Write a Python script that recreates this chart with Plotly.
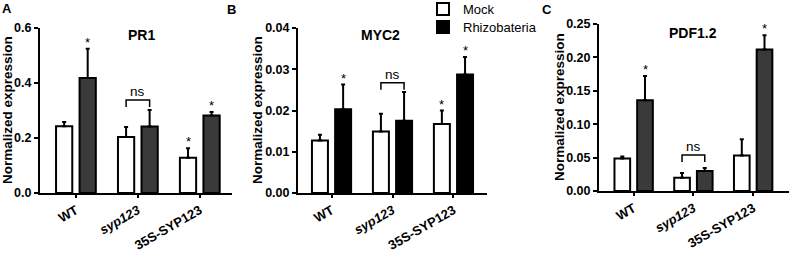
import plotly.graph_objects as go

# ---------------- data ----------------
genotypes = ["WT", "syp123", "35S-SYP123"]
tick_labels = ["WT", "<i>syp123</i>", "35S-SYP123"]

pr1_mock = [0.243, 0.204, 0.128]
pr1_mock_err = [0.015, 0.036, 0.035]
pr1_rhizo = [0.418, 0.242, 0.282]
pr1_rhizo_err = [0.107, 0.060, 0.013]
pr1_mock_star = [False, False, True]
pr1_rhizo_star = [True, False, True]

myc2_mock = [0.0127, 0.0149, 0.0167]
myc2_mock_err = [0.0014, 0.0043, 0.0033]
myc2_rhizo = [0.0203, 0.0175, 0.0287]
myc2_rhizo_err = [0.0060, 0.0070, 0.0043]
myc2_mock_star = [False, False, True]
myc2_rhizo_star = [True, False, True]

pdf_mock = [0.0485, 0.020, 0.053]
pdf_mock_err = [0.003, 0.007, 0.0245]
pdf_rhizo = [0.136, 0.030, 0.212]
pdf_rhizo_err = [0.036, 0.0045, 0.021]
pdf_mock_star = [False, False, False]
pdf_rhizo_star = [True, False, True]

ns_level = [0.338, 0.0267, 0.054]   # bracket height per panel
panel_titles = ["PR1", "MYC2", "PDF1.2"]
panel_letters = ["A", "B", "C"]
y_max = [0.6, 0.04, 0.25]
y_dtick = [0.2, 0.01, 0.05]
y_fmt = [".1f", ".2f", ".2f"]

# ---------------- layout params ----------------
FONT = "Liberation Sans, Arial, sans-serif"
W, H = 800, 253
x_domains = [[40 / W, 232 / W], [298 / W, 487 / W], [599 / W, 789 / W]]
y_domains = [[1 - 193 / H, 1 - 28 / H], [1 - 193 / H, 1 - 28 / H], [1 - 191 / H, 1 - 24 / H]]
x_ranges = [[-0.58, 2.52], [-0.55, 2.55], [-0.58, 2.6]]
rhizo_colors = ["#3a3a3a", "#000000", "#3a3a3a"]
bar_off = 0.19

panels = [
    (pr1_mock, pr1_mock_err, pr1_rhizo, pr1_rhizo_err, pr1_mock_star, pr1_rhizo_star),
    (myc2_mock, myc2_mock_err, myc2_rhizo, myc2_rhizo_err, myc2_mock_star, myc2_rhizo_star),
    (pdf_mock, pdf_mock_err, pdf_rhizo, pdf_rhizo_err, pdf_mock_star, pdf_rhizo_star),
]

fig = go.Figure()
annotations = []
shapes = []
xs = list(range(len(genotypes)))

for p, (m, me, r, re_, ms, rs) in enumerate(panels):
    sfx = "" if p == 0 else str(p + 1)
    xa, ya = "x" + sfx, "y" + sfx
    err_style = dict(type="data", symmetric=False, arrayminus=[0] * 3,
                     color="black", thickness=2, width=2)
    fig.add_trace(go.Bar(
        x=xs, y=m, name="Mock", xaxis=xa, yaxis=ya,
        marker=dict(color="white", line=dict(color="black", width=2)),
        error_y=dict(array=me, **err_style), showlegend=(p == 1),
        legend="legend",
    ))
    fig.add_trace(go.Bar(
        x=xs, y=r, name="Rhizobateria", xaxis=xa, yaxis=ya,
        marker=dict(color=rhizo_colors[p], line=dict(color="black", width=2)),
        error_y=dict(array=re_, **err_style), showlegend=(p == 1),
        legend="legend2",
    ))
    # stars
    for i in xs:
        for vals, errs, stars, sign in ((m, me, ms, -1), (r, re_, rs, 1)):
            if stars[i]:
                annotations.append(dict(
                    x=i + sign * bar_off, y=vals[i] + errs[i], xref=xa, yref=ya,
                    text="*", showarrow=False, xanchor="center", yanchor="bottom",
                    yshift=-3,
                    font=dict(family=FONT, size=13, color="black"),
                ))
    # ns bracket on syp123
    gi = 1
    yt = ns_level[p]
    leg = y_max[p] * 0.042
    x0, x1 = gi - bar_off, gi + bar_off
    shapes.append(dict(
        type="path", xref=xa, yref=ya,
        path=f"M {x0},{yt - leg} L {x0},{yt} L {x1},{yt} L {x1},{yt - leg}",
        line=dict(color="black", width=1.5),
    ))
    annotations.append(dict(
        x=gi, y=yt, xref=xa, yref=ya, text="ns", showarrow=False,
        xanchor="center", yanchor="bottom", yshift=-1,
        font=dict(family=FONT, size=13.5, color="black"),
    ))

    axis_common = dict(showline=True, linecolor="black", linewidth=2,
                       ticks="outside", tickcolor="black", tickwidth=2,
                       showgrid=False, zeroline=False, automargin=False)
    fig.update_layout({
        ("xaxis" + sfx): dict(
            domain=x_domains[p], anchor=ya, range=x_ranges[p],
            tickvals=xs, ticktext=tick_labels, tickangle=-30, ticklen=3,
            tickfont=dict(family=FONT, size=13, color="black", weight="bold"),
            **axis_common),
        ("yaxis" + sfx): dict(
            domain=y_domains[p], anchor=xa, range=[0, y_max[p]],
            dtick=y_dtick[p], tick0=0, tickformat=y_fmt[p], ticklen=4,
            tickfont=dict(family=FONT, size=12.5, color="black", weight="bold"),
            **axis_common),
    })

# panel titles, letters, y titles
title_pos = [(141, 35), (380, 35), (693, 33)]
letter_pos = [(7, 8), (231, 9), (547, 9)]
ytitle_pos = [(8, 110), (258, 110), (559, 107)]
for p in range(3):
    annotations.append(dict(
        x=title_pos[p][0] / W, y=1 - title_pos[p][1] / H, xref="paper", yref="paper",
        text="<b>" + panel_titles[p] + "</b>", showarrow=False,
        xanchor="center", yanchor="middle",
        font=dict(family=FONT, size=14, color="black")))
    annotations.append(dict(
        x=letter_pos[p][0] / W, y=1 - letter_pos[p][1] / H, xref="paper", yref="paper",
        text="<b>" + panel_letters[p] + "</b>", showarrow=False,
        xanchor="center", yanchor="middle",
        font=dict(family=FONT, size=13, color="black")))
    annotations.append(dict(
        x=ytitle_pos[p][0] / W, y=1 - ytitle_pos[p][1] / H, xref="paper", yref="paper",
        text="<b>Normalized expression</b>", showarrow=False, textangle=-90,
        xanchor="center", yanchor="middle",
        font=dict(family=FONT, size=13.5, color="black")))

legend_style = dict(xanchor="left", yanchor="middle",
                    font=dict(family=FONT, size=13, color="black"),
                    bgcolor="rgba(0,0,0,0)", borderwidth=0, itemsizing="constant")
fig.update_layout(
    width=W, height=H,
    margin=dict(l=0, r=0, t=0, b=0, pad=0, autoexpand=False),
    paper_bgcolor="white", plot_bgcolor="white",
    barmode="group", bargap=0.24, bargroupgap=0.31,
    annotations=annotations, shapes=shapes,
    legend=dict(x=423 / W, y=1 - 9 / H, **legend_style),
    legend2=dict(x=423 / W, y=1 - 27 / H, **legend_style),
    showlegend=True,
)

fig.write_html(
    "out.html",
    config={"displayModeBar": False},
    post_script="document.body.style.margin='0';document.body.style.overflow='hidden';",
)
